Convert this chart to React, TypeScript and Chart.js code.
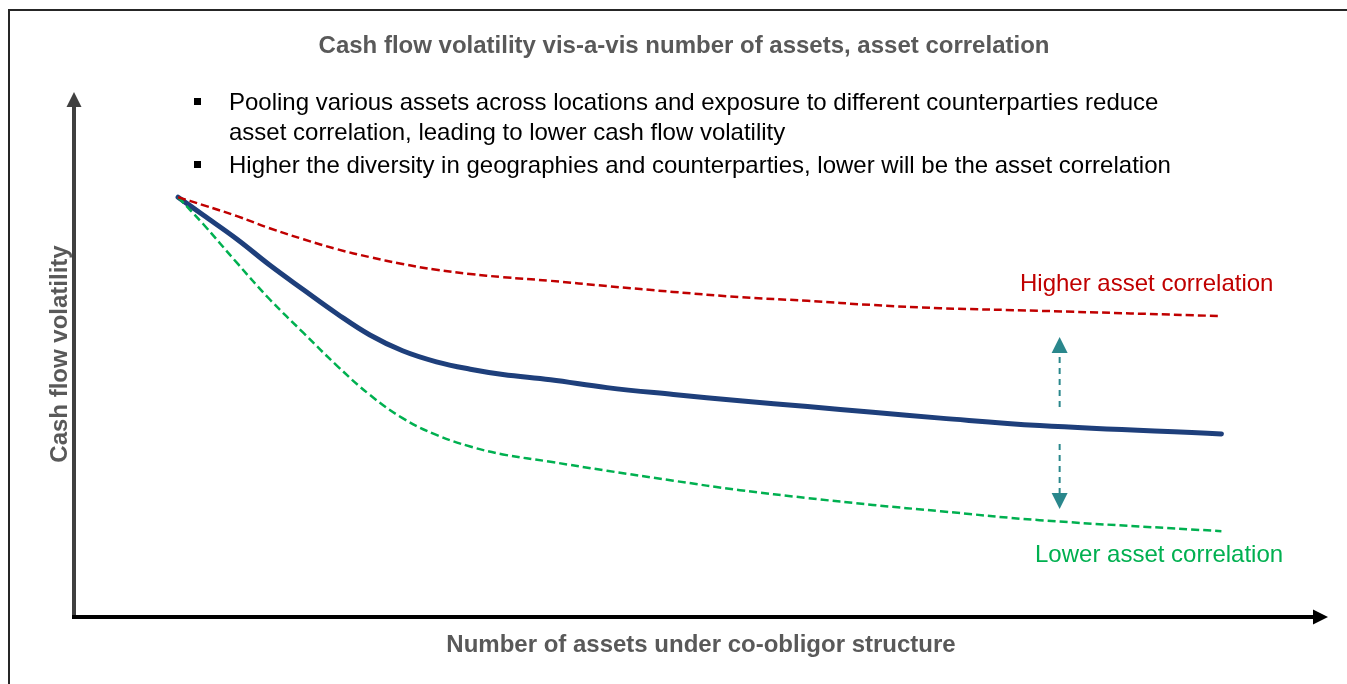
import React, { useEffect, useRef } from "react";
import { Chart, registerables } from "chart.js";

Chart.register(...registerables);

// ---- data (abstract units: x = number of assets 0..100, y = volatility 0..100)
const XS = [8.3, 10.3, 13.0, 15.6, 18.3, 21.0, 23.6, 26.2, 28.9, 31.6, 34.2, 38.0, 42.5, 47.8, 53.1, 58.5, 63.7, 69.1, 77.0, 91.5];
const BASE = [80.0, 76.6, 72.0, 67.1, 62.4, 57.8, 53.8, 50.8, 48.7, 47.3, 46.3, 45.3, 43.8, 42.5, 41.3, 40.2, 39.1, 38.0, 36.6, 35.0];
const HIGH = [80.0, 78.5, 76.4, 74.1, 72.0, 70.1, 68.6, 67.3, 66.2, 65.4, 64.8, 64.1, 63.1, 62.0, 61.0, 60.3, 59.5, 58.9, 58.4, 57.4];
const LOW = [80.0, 74.9, 67.5, 60.6, 54.2, 47.9, 42.4, 38.0, 34.8, 32.6, 31.1, 29.7, 28.0, 26.1, 24.3, 22.8, 21.5, 20.3, 18.6, 16.5];

const TITLE = "Cash flow volatility vis-a-vis number of assets, asset correlation";
const X_TITLE = "Number of assets under co-obligor structure";
const Y_TITLE = "Cash flow volatility";
const BULLETS = [
  ["Pooling various assets across locations and exposure to different counterparties reduce", "asset correlation, leading to lower cash flow volatility"],
  ["Higher the diversity in geographies and counterparties, lower will be the asset correlation"],
];
const HIGH_LABEL = "Higher asset correlation";
const LOW_LABEL = "Lower asset correlation";
// double arrow between the two dashed curves
const ARROW_X = 78.6;
const ARROW_TOP = 53.4;
const ARROW_BOTTOM = 20.7;

const FONT = '"Liberation Sans", Arial, sans-serif';

const pts = (ys: number[]) => XS.map((x, i) => ({ x, y: ys[i] }));

const decor = {
  id: "decor",
  afterDatasetsDraw(chart: any) {
    const { ctx, chartArea, scales } = chart;
    const xs = scales.x;
    const ys = scales.y;
    ctx.save();
    // frame
    ctx.strokeStyle = "#262626";
    ctx.lineWidth = 2;
    ctx.strokeRect(9, 10, 1400, 800);

    // y axis with arrow
    const ax = chartArea.left;
    const ay = chartArea.bottom - 1;
    ctx.fillStyle = "#404040";
    ctx.fillRect(ax - 2, chartArea.top + 14, 4, ay - chartArea.top - 12);
    ctx.beginPath();
    ctx.moveTo(ax, chartArea.top);
    ctx.lineTo(ax - 7.5, chartArea.top + 15);
    ctx.lineTo(ax + 7.5, chartArea.top + 15);
    ctx.closePath();
    ctx.fill();
    // x axis with arrow
    ctx.fillStyle = "#000000";
    ctx.fillRect(ax - 2, ay - 2, chartArea.right - 15 - ax + 3, 4);
    ctx.beginPath();
    ctx.moveTo(chartArea.right, ay);
    ctx.lineTo(chartArea.right - 15, ay - 7.5);
    ctx.lineTo(chartArea.right - 15, ay + 7.5);
    ctx.closePath();
    ctx.fill();

    // double dashed arrow
    const px = xs.getPixelForValue(ARROW_X);
    const pt = ys.getPixelForValue(ARROW_TOP);
    const pb = ys.getPixelForValue(ARROW_BOTTOM);
    const mid = (pt + pb) / 2 + 2;
    ctx.strokeStyle = "#2A878C";
    ctx.fillStyle = "#2A878C";
    ctx.lineWidth = 2;
    ctx.setLineDash([6, 5]);
    ctx.beginPath();
    ctx.moveTo(px, pt + 20);
    ctx.lineTo(px, mid - 16);
    ctx.moveTo(px, mid + 19);
    ctx.lineTo(px, pb - 16);
    ctx.stroke();
    ctx.setLineDash([]);
    ctx.beginPath();
    ctx.moveTo(px, pt);
    ctx.lineTo(px - 8, pt + 16);
    ctx.lineTo(px + 8, pt + 16);
    ctx.closePath();
    ctx.fill();
    ctx.beginPath();
    ctx.moveTo(px, pb);
    ctx.lineTo(px - 8, pb - 16);
    ctx.lineTo(px + 8, pb - 16);
    ctx.closePath();
    ctx.fill();

    // texts
    ctx.textBaseline = "alphabetic";
    ctx.font = `bold 24px ${FONT}`;
    ctx.fillStyle = "#595959";
    ctx.textAlign = "center";
    ctx.fillText(TITLE, 684, 53);
    ctx.fillText(X_TITLE, 701, 652);
    ctx.save();
    ctx.translate(67, 354);
    ctx.rotate(-Math.PI / 2);
    ctx.fillText(Y_TITLE, 0, 0);
    ctx.restore();

    ctx.textAlign = "left";
    ctx.font = `24px ${FONT}`;
    ctx.fillStyle = "#000000";
    const baselines = [[110, 140], [173]];
    BULLETS.forEach((para, i) => {
      ctx.fillRect(194, baselines[i][0] - 12, 7, 7);
      para.forEach((line, j) => ctx.fillText(line, 229, baselines[i][j]));
    });

    ctx.fillStyle = "#C00000";
    ctx.fillText(HIGH_LABEL, 1020, 291);
    ctx.fillStyle = "#00B050";
    ctx.fillText(LOW_LABEL, 1035, 562);
    ctx.restore();
  },
};

export default function App() {
  const ref = useRef<HTMLCanvasElement>(null);
  useEffect(() => {
    if (!ref.current) return;
    const chart = new Chart(ref.current, {
      type: "line",
      data: {
        datasets: [
          {
            label: "Higher asset correlation",
            data: pts(HIGH),
            borderColor: "#C00000",
            borderWidth: 2.5,
            borderDash: [8, 4],
            pointRadius: 0,
            tension: 0.4,
            fill: false,
          },
          {
            label: "Lower asset correlation",
            data: pts(LOW),
            borderColor: "#00B050",
            borderWidth: 2.5,
            borderDash: [8, 4],
            pointRadius: 0,
            tension: 0.4,
            fill: false,
          },
          {
            label: "Cash flow volatility",
            data: pts(BASE),
            borderColor: "#1E3F7B",
            borderWidth: 5,
            borderCapStyle: "round",
            pointRadius: 0,
            tension: 0.4,
            fill: false,
          },
        ],
      },
      options: {
        responsive: false,
        animation: false,
        devicePixelRatio: 1,
        layout: { padding: { left: 74, right: 19, top: 92, bottom: 66 } },
        scales: {
          x: { type: "linear", min: 0, max: 100, display: false },
          y: { type: "linear", min: 0, max: 100, display: false },
        },
        plugins: { legend: { display: false }, tooltip: { enabled: false }, title: { display: false } },
      },
      plugins: [decor],
    });
    return () => chart.destroy();
  }, []);
  return (
    <div style={{ position: "fixed", left: 0, top: 0, width: 1347, height: 684, background: "#fff" }}>
      <canvas ref={ref} width={1347} height={684} style={{ display: "block" }} />
    </div>
  );
}
